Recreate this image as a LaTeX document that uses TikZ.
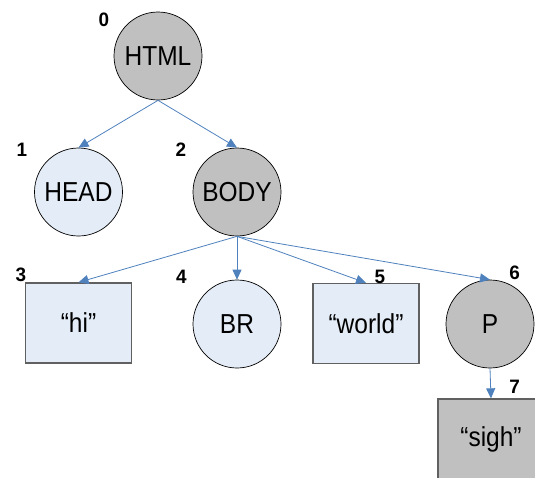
\documentclass[tikz,border=0pt]{standalone}
\usepackage{fontspec}
\usepackage{graphicx}
\setmainfont{Liberation Sans}
\usetikzlibrary{arrows.meta}
\definecolor{nodelight}{RGB}{228,236,247}
\definecolor{nodegray}{RGB}{192,192,192}
\definecolor{edgeblue}{RGB}{79,129,189}
\definecolor{boxline}{RGB}{96,96,96}
% slightly tall lettering for labels
\newcommand\tallword[1]{\scalebox{1}[1.12]{#1}}
\newcommand\tallnum[1]{\scalebox{1.05}[1.08]{#1}}

\begin{document}
\begin{tikzpicture}[x=1pt,y=-1pt,
  elem/.style={circle, draw=black, line width=0.7pt, minimum size=88pt,
    inner sep=0pt, font=\fontsize{24.5}{29}\selectfont},
  textbox/.style={rectangle, draw=boxline, line width=1.3pt,
    minimum width=106pt, minimum height=80pt, inner sep=0pt,
    font=\fontsize{24.5}{29}\selectfont},
  light/.style={fill=nodelight},
  dark/.style={fill=nodegray},
  idx/.style={inner sep=0pt, font=\fontsize{18}{21}\selectfont\bfseries},
  link/.style={draw=edgeblue, line width=0.8pt,
    -{Triangle[length=10pt,width=9pt]}}]

  % page frame
  \useasboundingbox (0,0) rectangle (535,477);
  \clip (0,0) rectangle (535,477);

  % element and text nodes of the DOM tree
  \node[elem, dark]  (html) at (158,56)  {\tallword{HTML}};
  \node[elem, light] (head) at (78.5,192) {\tallword{HEAD}};
  \node[elem, dark]  (body) at (237,192) {\tallword{BODY}};
  \node[textbox, light] (hi) at (78.5,323) {\tallword{“hi”}};
  \node[elem, light] (br) at (237,324) {\tallword{BR}};
  \node[textbox, light] (world) at (366,323.5) {\tallword{“world”}};
  \node[elem, dark]  (p) at (490,324) {\tallword{P}};
  \node[textbox, dark] (sigh) at (491,439) {\tallword{“sigh”}};

  % traversal numbers
  \node[idx] (n0) at (104,20) {\tallnum{0}};
  \node[idx] (n1) at (22,150) {\tallnum{1}};
  \node[idx] (n2) at (181,150) {\tallnum{2}};
  \node[idx] (n3) at (21,275) {\tallnum{3}};
  \node[idx] (n4) at (181.5,277) {\tallnum{4}};
  \node[idx] (n5) at (380,277) {\tallnum{5}};
  \node[idx] (n6) at (514.5,272.5) {\tallnum{6}};
  \node[idx] (n7) at (514.5,387) {\tallnum{7}};

  % parent-to-child links
  \draw[link] (html.south) -- (head.north);
  \draw[link] (html.south) -- (body.north);
  \draw[link] (body.south) -- (hi.north);
  \draw[link] (body.south) -- (br.north);
  \draw[link] (body.south) -- (world.north);
  \draw[link] (body.south) -- (p.north);
  \draw[link] (p.south) -- (sigh.north);
\end{tikzpicture}
\end{document}
